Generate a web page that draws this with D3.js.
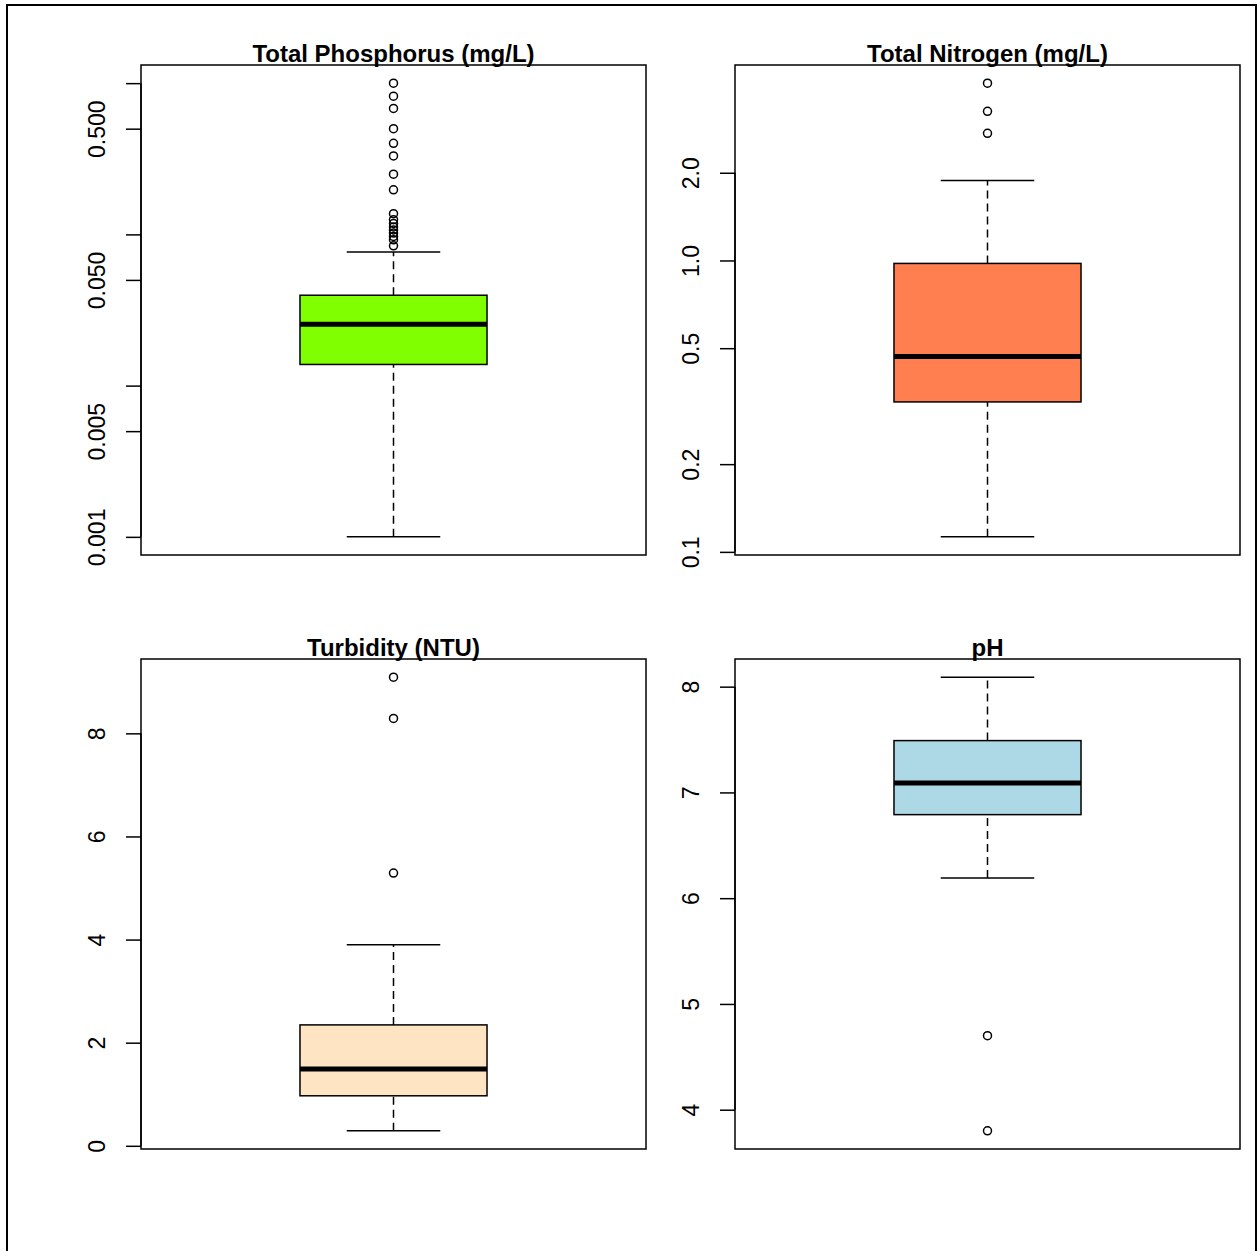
<!DOCTYPE html>
<html>
<head>
<meta charset="utf-8">
<script src="https://cdn.jsdelivr.net/npm/d3@7"></script>
<style>
  body { margin: 0; background: #fff; }
  svg { display: block; }
</style>
</head>
<body>
<div id="chart"></div>
<script>
// box statistics, one entry per panel
var titles      = ["Total Phosphorus (mg/L)", "Total Nitrogen (mg/L)", "Turbidity (NTU)", "pH"];
var fills       = ["#7fff00", "#ff7f50", "#ffe4c4", "#add8e6"];
var logScale    = [true, true, false, false];
var whiskerLow  = [0.001, 0.1126, 0.29, 6.19];
var q1          = [0.0138, 0.327, 0.97, 6.79];
var medians     = [0.0255, 0.468, 1.49, 7.09];
var q3          = [0.0396, 0.977, 2.345, 7.49];
var whiskerHigh = [0.0764, 1.88, 3.9, 8.09];
var outliers    = [
  [1.0, 0.82, 0.68, 0.5, 0.40, 0.33, 0.25, 0.197, 0.137, 0.125, 0.118, 0.112, 0.107, 0.102, 0.097, 0.092, 0.084],
  [4.06, 3.25, 2.73],
  [9.09, 8.29, 5.29],
  [4.70, 3.80]
];
var tickValues  = [
  [0.001, 0.005, 0.01, 0.05, 0.1, 0.5, 1],
  [0.1, 0.2, 0.5, 1, 2],
  [0, 2, 4, 6, 8],
  [4, 5, 6, 7, 8]
];
var tickLabels  = [
  ["0.001", "0.005", "", "0.050", "", "0.500", ""],
  ["0.1", "0.2", "0.5", "1.0", "2.0"],
  ["0", "2", "4", "6", "8"],
  ["4", "5", "6", "7", "8"]
];

var W = 1257, H = 1251,
    cols = [141, 735], rows = [65, 659],
    pw = 505, ph = 490;

var svg = d3.select("#chart")
  .append("svg")
  .attr("width", W)
  .attr("height", H);

// outer frame (no bottom edge visible in the picture)
svg.append("path")
  .attr("d", "M7,1251 V5 H1256 V1251")
  .style("fill", "none")
  .style("stroke", "#000")
  .style("stroke-width", 2);

titles.forEach(function(title, i) {
  var left = cols[i % 2],
      top  = rows[Math.floor(i / 2)],
      g    = svg.append("g").attr("transform", "translate(" + left + "," + top + ")");

  var all = [whiskerLow[i], whiskerHigh[i]].concat(outliers[i]),
      lo  = d3.min(all),
      hi  = d3.max(all),
      y;

  // R style: extend data range by 4% on each side
  if (logScale[i]) {
    var l0 = Math.log10(lo), l1 = Math.log10(hi), pad = (l1 - l0) * 0.04;
    y = d3.scaleLog().domain([Math.pow(10, l0 - pad), Math.pow(10, l1 + pad)]).range([ph, 0]);
  } else {
    var p = (hi - lo) * 0.04;
    y = d3.scaleLinear().domain([lo - p, hi + p]).range([ph, 0]);
  }
  var x = d3.scaleLinear().domain([0.46, 1.54]).range([0, pw]),
      cx = x(1);

  // y axis
  var labels = tickLabels[i];
  var axis = d3.axisLeft(y)
    .tickValues(tickValues[i])
    .tickSize(15)
    .tickFormat(function(d, k) { return labels[k]; });

  var ax = g.append("g").call(axis);
  ax.select(".domain").remove();
  ax.selectAll(".tick line").style("stroke", "#000").style("stroke-width", 1.5);
  ax.selectAll(".tick text")
    .attr("x", 0)
    .attr("dy", "0.36em")
    .attr("text-anchor", "middle")
    .attr("transform", "translate(-44,0) rotate(-90)")
    .style("font-family", "'Liberation Sans', Arial, sans-serif")
    .style("font-size", "23px")
    .style("fill", "#000");
  var tv = tickValues[i];
  g.append("line")
    .attr("x1", 0).attr("x2", 0)
    .attr("y1", y(tv[0])).attr("y2", y(tv[tv.length - 1]))
    .style("stroke", "#000").style("stroke-width", 1.5);

  // whiskers
  g.selectAll(".whisker")
    .data([[whiskerLow[i], q1[i]], [q3[i], whiskerHigh[i]]])
    .enter().append("line")
    .attr("x1", cx).attr("x2", cx)
    .attr("y1", function(d) { return y(d[0]); })
    .attr("y2", function(d) { return y(d[1]); })
    .style("stroke", "#000").style("stroke-width", 1.5)
    .style("stroke-dasharray", "8,5");

  g.selectAll(".staple")
    .data([whiskerLow[i], whiskerHigh[i]])
    .enter().append("line")
    .attr("x1", x(0.9)).attr("x2", x(1.1))
    .attr("y1", function(d) { return y(d); })
    .attr("y2", function(d) { return y(d); })
    .style("stroke", "#000").style("stroke-width", 1.5);

  // box
  g.append("rect")
    .attr("x", x(0.8))
    .attr("width", x(1.2) - x(0.8))
    .attr("y", y(q3[i]))
    .attr("height", y(q1[i]) - y(q3[i]))
    .style("fill", fills[i])
    .style("stroke", "#000")
    .style("stroke-width", 1.5);

  g.append("line")
    .attr("x1", x(0.8)).attr("x2", x(1.2))
    .attr("y1", y(medians[i])).attr("y2", y(medians[i]))
    .style("stroke", "#000").style("stroke-width", 5);

  // outliers
  g.selectAll(".out")
    .data(outliers[i])
    .enter().append("circle")
    .attr("cx", cx)
    .attr("cy", function(d) { return y(d); })
    .attr("r", 4)
    .style("fill", "none")
    .style("stroke", "#000")
    .style("stroke-width", 1.5);

  // panel box
  g.append("rect")
    .attr("width", pw).attr("height", ph)
    .style("fill", "none")
    .style("stroke", "#000")
    .style("stroke-width", 1.5);

  g.append("text")
    .attr("x", pw / 2)
    .attr("y", -3)
    .attr("text-anchor", "middle")
    .style("font-family", "'Liberation Sans', Arial, sans-serif")
    .style("font-weight", "bold")
    .style("font-size", "24px")
    .text(title);
});
</script>
</body>
</html>
